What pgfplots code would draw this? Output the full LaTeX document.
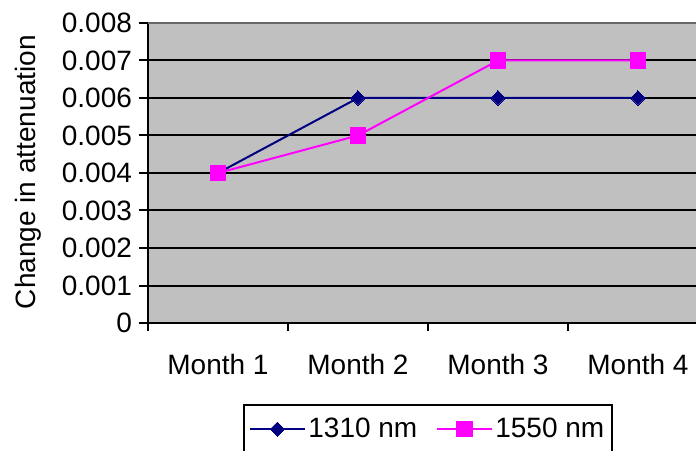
\documentclass[border=0pt]{standalone}
\usepackage{fontspec}
\setmainfont{Liberation Sans}
\usepackage{pgfplots}
\pgfplotsset{compat=1.18}
\definecolor{bggray}{HTML}{C0C0C0}
\definecolor{navy}{HTML}{000080}
\definecolor{mag}{HTML}{FF00FF}
\newcommand{\bigf}{\fontsize{21}{25}\selectfont}
\pgfplotsset{mylegimg/.style={legend image code/.code={\draw[mark repeat=2,mark phase=2,##1] plot coordinates {(0pt,0pt) (20.5pt,0pt) (41pt,0pt)};}}}
\begin{document}
\begin{tikzpicture}
\path[use as bounding box] (0,0) rectangle (522pt,337.5pt);
\clip (0,0) rectangle (522pt,337.5pt);
\begin{axis}[
  at={(111pt,95.25pt)}, anchor=south west,
  width=420pt, height=225pt, scale only axis,
  xmin=0.5, xmax=4.5, ymin=0, ymax=0.008,
  scaled y ticks=false,
  axis x line*=bottom, axis y line*=left,
  axis line style={line width=1.5pt, -},
  axis background/.style={fill=bggray},
  xtick={1,2,3,4},
  xticklabels={Month 1,Month 2,Month 3,Month 4},
  major x tick style={draw=none},
  minor xtick={0.5,1.5,2.5,3.5,4.5},
  minor x tick style={black, line width=1.5pt},
  minor tick length=6pt,
  ytick={0,0.001,0.002,0.003,0.004,0.005,0.006,0.007,0.008},
  yticklabels={0,0.001,0.002,0.003,0.004,0.005,0.006,0.007,0.008},
  major y tick style={black, line width=1.5pt},
  major tick length=6.5pt,
  tick align=outside,
  ymajorgrids, major grid style={black, line width=1.5pt},
  xticklabel style={font=\bigf, yshift=-13pt},
  yticklabel style={font=\bigf, xshift=-2pt},
  ylabel={Change in attenuation},
  ylabel style={font=\bigf, at={(axis description cs:-0.214,0.503)}, anchor=center, rotate=0},
  legend columns=2,
  legend style={font=\bigf, at={(axis description cs:0.5,-0.27)}, anchor=north,
    draw=black, line width=1.5pt, inner xsep=4pt, inner ysep=8pt,
    /tikz/every even column/.append style={column sep=12pt}},
  legend cell align=left,
  mylegimg,
]
\addplot[navy, line width=1.5pt, mark=square*, mark size=3.75pt, mark options={rotate=45, fill=navy, draw=navy, line width=0pt}]
  coordinates {(1,0.004) (2,0.006) (3,0.006) (4,0.006)};
\addlegendentry{1310 nm}
\addplot[mag, line width=1.5pt, mark=square*, mark size=5.9pt, mark options={fill=mag, draw=mag, line width=0pt}]
  coordinates {(1,0.004) (2,0.005) (3,0.007) (4,0.007)};
\addlegendentry{1550 nm}
\draw[gray!80!black, line width=1.5pt] (axis description cs:0,1) -- (axis description cs:1,1);
\end{axis}
\end{tikzpicture}
\end{document}
